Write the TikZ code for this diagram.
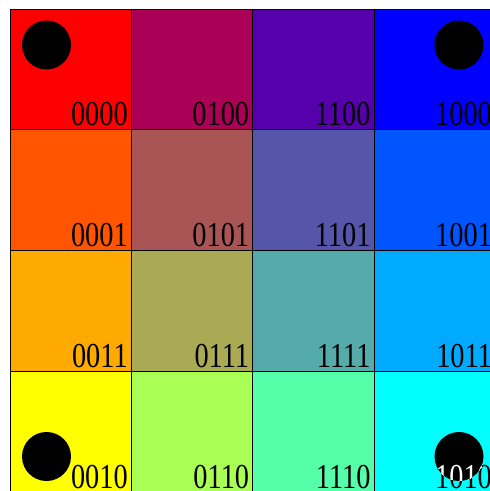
\documentclass[tikz,border=0pt]{standalone}
\usepackage{fontspec}
\newfontfamily\codefont[FakeStretch=0.81]{Liberation Serif}

\begin{document}
\begin{tikzpicture}[x=1pt,y=-1pt,
    cell/.style={draw=black,line width=1pt},
    code/.style={anchor=base east,inner sep=0pt,font=\codefont\fontsize{35}{35}\selectfont},
    dot/.style={fill=black}]
  \useasboundingbox (0,0) rectangle (490,491);
  \fill[white] (0,0) rectangle (490,491);
  \begin{scope}
    \clip (0,0) rectangle (490,491);
    % colour cells: red falls to the right, green grows downwards
    \foreach \r in {0,1,2,3}
      \foreach \c in {0,1,2,3} {
        \pgfmathtruncatemacro\rv{255-85*\c}
        \pgfmathtruncatemacro\gv{85*\r}
        \pgfmathtruncatemacro\bv{85*\c}
        \definecolor{cellcol}{RGB}{\rv,\gv,\bv}
        \filldraw[cell,fill=cellcol] ({10+121.4*\c},{9+120.8*\r}) rectangle ++(121.4,120.8);
      }
    % corner dots
    \fill[dot] (46.5,45) circle (24.5);
    \fill[dot] (459,45) circle (24.5);
    \fill[dot] (46.5,456.5) circle (24.5);
    \fill[dot] (459,456.5) circle (24.5);
    % gray code labels
    \foreach \r/\row in {0/{0000,0100,1100,1000},1/{0001,0101,1101,1001},
                         2/{0011,0111,1111,1011},3/{0010,0110,1110,1010}}
      \foreach \t [count=\c from 0] in \row
        \node[code] (lab-\r-\c) at ({10+121.4*(\c+1)-3.5},{9+120.8*(\r+1)-4}) {\t};
    \begin{scope}
      \clip (459,456.5) circle (24.5);
      \node[code,white] (lab-inv) at (lab-3-3.base east) {1010};
    \end{scope}
  \end{scope}
\end{tikzpicture}
\end{document}
